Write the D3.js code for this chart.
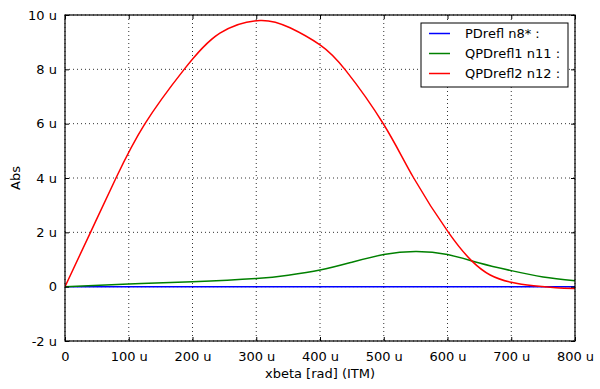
<!DOCTYPE html>
<meta charset="utf-8">
<style>
body { margin: 0; background: #fff; }
text { font-family: "DejaVu Sans", sans-serif; font-size: 13px; fill: #000; }
</style>
<svg width="600" height="389"></svg>
<script src="https://d3js.org/d3.v7.min.js"></script>
<script>

// values (x in u-rad, y in u)
var xTicks = [0, 100, 200, 300, 400, 500, 600, 700, 800];
var yTicks = [-2, 0, 2, 4, 6, 8, 10];

var blueX = [0, 100, 200, 300, 400, 500, 600, 700, 800];
var blueY = [0, 0, 0, 0, 0, 0, 0, 0, 0];

var greenX = [0, 100, 200, 300, 350, 400, 450, 500, 550, 600, 650, 700, 750, 800];
var greenY = [0, 0.10, 0.18, 0.30, 0.42, 0.61, 0.90, 1.18, 1.29, 1.18, 0.87, 0.59, 0.36, 0.22];

var redX = [0, 40, 80, 125, 186, 243, 306, 353, 400, 440, 500, 547, 602, 638, 667, 700, 735, 770, 800];
var redY = [0, 2.0, 4.0, 5.98, 7.97, 9.33, 9.8, 9.53, 8.9, 7.97, 5.97, 4.0, 1.98, 0.95, 0.43, 0.16, 0.03, -0.04, -0.07];

var seriesNames = ["PDrefl n8* :", "QPDrefl1 n11 :", "QPDrefl2 n12 :"];
var seriesColours = ["#0000ff", "#008000", "#ff0000"];

var svg = d3.select("svg");

// plot area edges (top is taken by window.top, so other names)
var plotL = 65, plotR = 575, plotT = 15, plotB = 341;

var x = d3.scaleLinear().domain([0, 800]).range([plotL, plotR]);
var y = d3.scaleLinear().domain([-2, 10]).range([plotB, plotT]);

function fmt(v) { return v === 0 ? "0" : v + " u"; }

// grid
var grid = svg.append("g");
xTicks.forEach(function(t) {
  grid.append("line")
      .attr("x1", x(t)).attr("x2", x(t))
      .attr("y1", plotT).attr("y2", plotB)
      .attr("stroke", "#333").attr("stroke-width", 1)
      .style("stroke-dasharray", "1,3");
});
yTicks.forEach(function(t) {
  grid.append("line")
      .attr("x1", plotL).attr("x2", plotR)
      .attr("y1", y(t)).attr("y2", y(t))
      .attr("stroke", "#333").attr("stroke-width", 1)
      .style("stroke-dasharray", "1,3");
});

// lines
var line = d3.line()
    .x(function(d) { return x(d[0]); })
    .y(function(d) { return y(d[1]); })
    .curve(d3.curveNatural);

var allSeries = [
  d3.zip(blueX, blueY),
  d3.zip(greenX, greenY),
  d3.zip(redX, redY)
];

var plot = svg.append("g");
plot.append("clipPath").attr("id", "clip")
    .append("rect").attr("x", plotL).attr("y", plotT)
    .attr("width", plotR - plotL).attr("height", plotB - plotT);

allSeries.forEach(function(s, i) {
  plot.append("path")
      .attr("d", line(s))
      .attr("fill", "none")
      .attr("clip-path", "url(#clip)")
      .attr("stroke", seriesColours[i])
      .attr("stroke-width", 1.5);
});

// frame and inward ticks, all four sides
var xAxis = d3.axisBottom(x).tickValues(xTicks).tickFormat(fmt).tickSizeInner(-4).tickSizeOuter(0).tickPadding(11);
var xTop = d3.axisTop(x).tickValues(xTicks).tickFormat("").tickSizeInner(-4).tickSizeOuter(0);
var yAxis = d3.axisLeft(y).tickValues(yTicks).tickFormat(fmt).tickSizeInner(-4).tickSizeOuter(0).tickPadding(8);
var yRight = d3.axisRight(y).tickValues(yTicks).tickFormat("").tickSizeInner(-4).tickSizeOuter(0);

function styleAxis(g) {
  g.select(".domain").remove();
  g.selectAll(".tick line").attr("stroke", "#000");
  g.selectAll("text").attr("font-size", 13).attr("font-family", "DejaVu Sans, sans-serif").attr("fill", "#000");
}

svg.append("g").attr("transform", "translate(0," + plotB + ")").call(xAxis).call(styleAxis);
svg.append("g").attr("transform", "translate(0," + plotT + ")").call(xTop).call(styleAxis);
svg.append("g").attr("transform", "translate(" + plotL + ",0)").call(yAxis).call(styleAxis);
svg.append("g").attr("transform", "translate(" + plotR + ",0)").call(yRight).call(styleAxis);

svg.append("rect")
   .attr("x", plotL).attr("y", plotT)
   .attr("width", plotR - plotL).attr("height", plotB - plotT)
   .attr("fill", "none").attr("stroke", "#000").attr("stroke-width", 1.2);

// axis titles
svg.append("text")
   .attr("x", (plotL + plotR) / 2).attr("y", 378)
   .attr("text-anchor", "middle")
   .text("xbeta [rad] (ITM)");

svg.append("text")
   .attr("transform", "translate(20," + ((plotT + plotB) / 2) + ") rotate(-90)")
   .attr("text-anchor", "middle")
   .text("Abs");

// legend
var legend = svg.append("g");
legend.append("rect")
      .attr("x", 421).attr("y", 23).attr("width", 147).attr("height", 64)
      .attr("fill", "#fff").attr("stroke", "#000").attr("stroke-width", 1);

seriesNames.forEach(function(name, i) {
  var ly = 33.5 + i * 20;
  legend.append("line")
        .attr("x1", 429).attr("x2", 450)
        .attr("y1", ly).attr("y2", ly)
        .attr("stroke", seriesColours[i]).attr("stroke-width", 1.5);
  legend.append("text")
        .attr("x", 465).attr("y", ly + 4.5)
        .text(name);
});

</script>
